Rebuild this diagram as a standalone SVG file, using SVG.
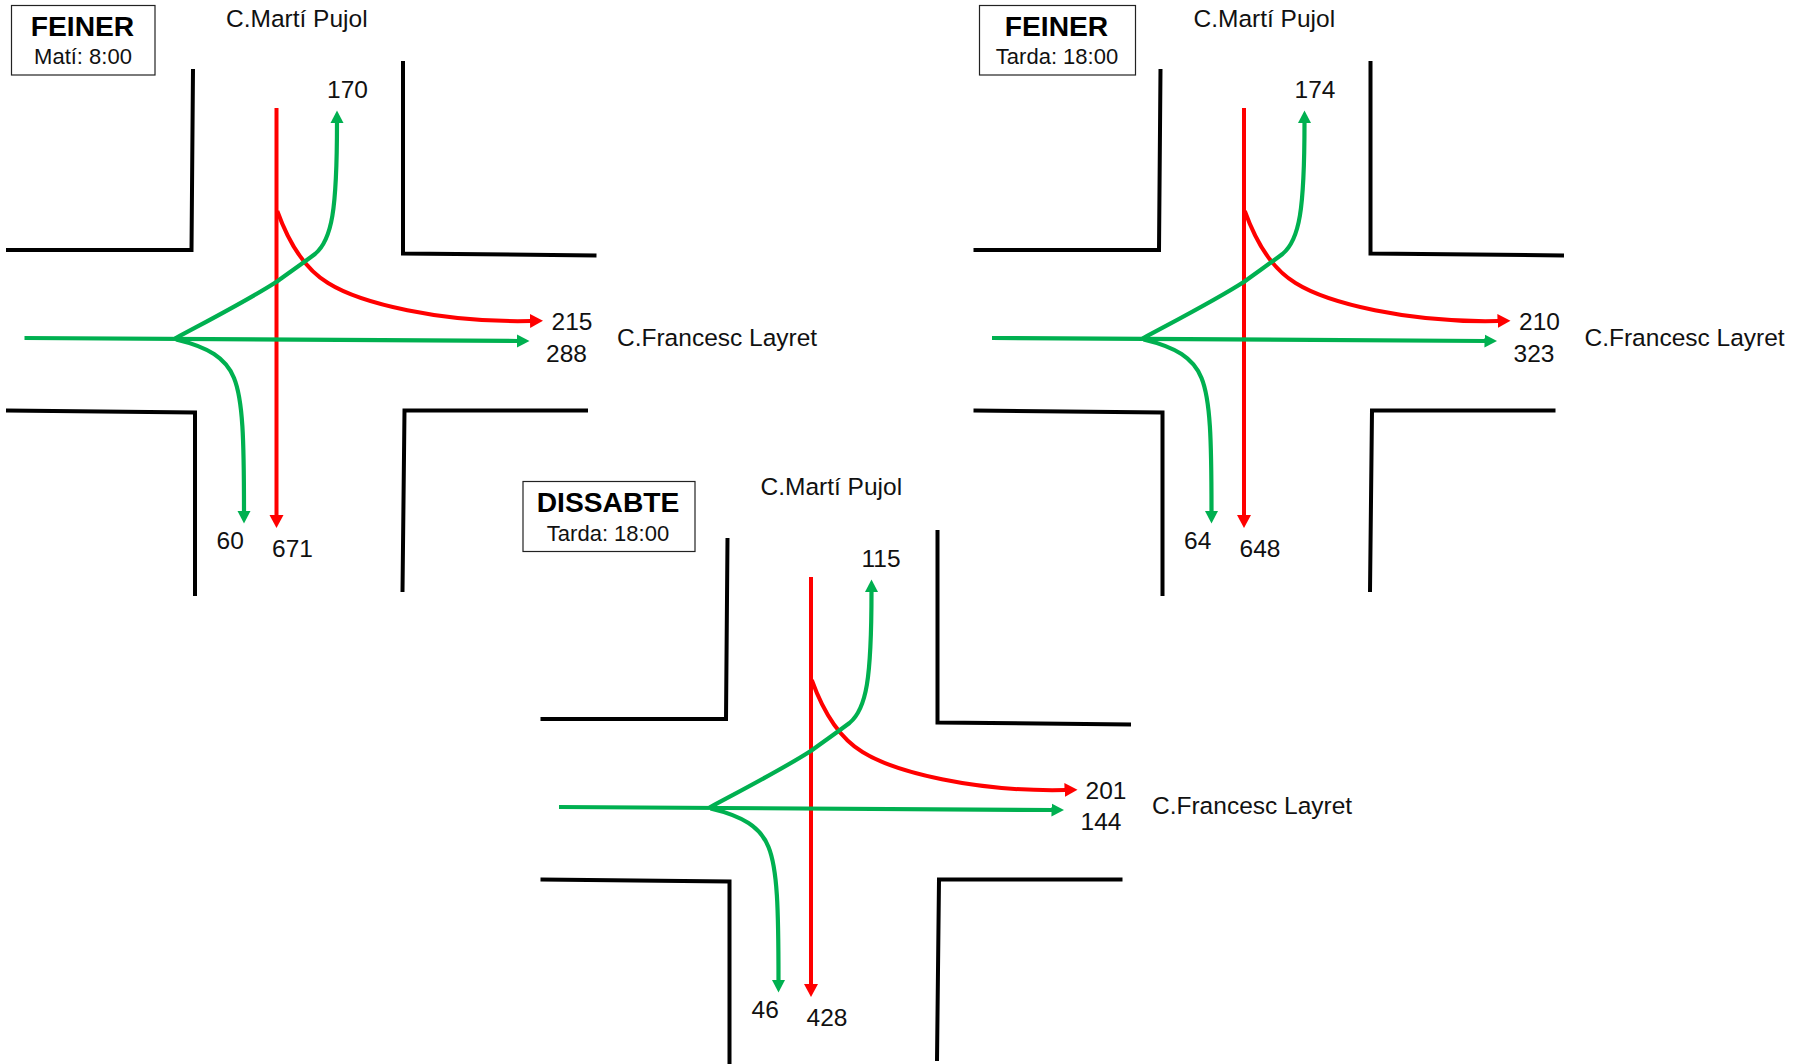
<svg xmlns="http://www.w3.org/2000/svg" width="1802" height="1064" viewBox="0 0 1802 1064">
<style>
text{font-family:"Liberation Sans",Arial,sans-serif;font-size:24.500px;fill:#111}
.t{font-size:28.200px;font-weight:700;text-anchor:middle;fill:#000}
.s{font-size:22px;text-anchor:middle}
.b{fill:#fff;stroke:#222;stroke-width:1.2}
.w{fill:none;stroke:#000;stroke-width:4}
.r{fill:none;stroke:#f00;stroke-width:4}
.g{fill:none;stroke:#00b050;stroke-width:4.200}
.ra{marker-end:url(#ar)}
.ga{marker-end:url(#ag)}
</style>
<defs>
<marker id="ar" markerUnits="userSpaceOnUse" markerWidth="16" markerHeight="16" refX="1" refY="8" orient="auto"><path d="M0 1L13 8L0 15Z" fill="#f00"/></marker>
<marker id="ag" markerUnits="userSpaceOnUse" markerWidth="16" markerHeight="16" refX="1" refY="8" orient="auto"><path d="M0 1.500L12.500 8L0 14.500Z" fill="#00b050"/></marker>
<g id="walls">
<path class="w" d="M193 69L191.500 250L6 250"/>
<path class="w" d="M403 61L403 253.500L596.500 255.500"/>
<path class="w" d="M6 410.500L195 412.500L195 596"/>
<path class="w" d="M588 410.500L404.500 410.500L402.500 592"/>
</g>
<g id="flows">
<path class="r ra" d="M276.500 108L276.500 516"/>
<path class="r ra" d="M277.300 211C287 238 303 268 328 283C360 303 440 323 531 321"/>
<path class="g ga" d="M24.500 338L518 341"/>
<path class="g ga" d="M175 338.500C215 317 250 299 277 281.500C290 272 303 263 315 254C332 240 337 210 337 122"/>
<path class="g ga" d="M176 339.500C208 347 226 358 234 378C243 400 244 440 244 512"/>
</g>
</defs>
<g id="connectors">
<use href="#flows"/>
<use href="#flows" transform="translate(967.500 0)"/>
<use href="#flows" transform="translate(534.500 469)"/>
</g>
<g id="feiner-mati">
<use href="#walls"/>
<rect class="b" x="11.500" y="5.500" width="143.500" height="69.500"/>
<text class="t" x="82.500" y="36">FEINER</text>
<text class="s" x="83" y="64">Matí: 8:00</text>
<text x="226" y="27">C.Martí Pujol</text>
<text x="617" y="346">C.Francesc Layret</text>
<text x="327" y="98">170</text>
<text x="551.500" y="330">215</text>
<text x="546" y="362">288</text>
<text x="216.500" y="549">60</text>
<text x="272" y="557">671</text>
</g>
<g id="feiner-tarda" transform="translate(967.500 0)">
<use href="#walls"/>
<rect x="12" y="5.500" width="156" height="69.500" class="b"/>
<text class="t" x="89" y="36">FEINER</text>
<text class="s" x="89.500" y="64">Tarda: 18:00</text>
<text x="226" y="27">C.Martí Pujol</text>
<text x="617" y="346">C.Francesc Layret</text>
<text x="327" y="98">174</text>
<text x="551.500" y="330">210</text>
<text x="546" y="362">323</text>
<text x="216.500" y="549">64</text>
<text x="272" y="557">648</text>
</g>
<g id="dissabte-tarda" transform="translate(534.500 469)">
<use href="#walls"/>
<rect x="-11.500" y="12.500" width="172" height="70" class="b"/>
<text class="t" x="73.500" y="43">DISSABTE</text>
<text class="s" x="73.500" y="72">Tarda: 18:00</text>
<text x="226" y="26">C.Martí Pujol</text>
<text x="617.500" y="345">C.Francesc Layret</text>
<text x="327" y="98">115</text>
<text x="551" y="330">201</text>
<text x="546" y="361">144</text>
<text x="217" y="549">46</text>
<text x="272" y="557">428</text>
</g>
</svg>
